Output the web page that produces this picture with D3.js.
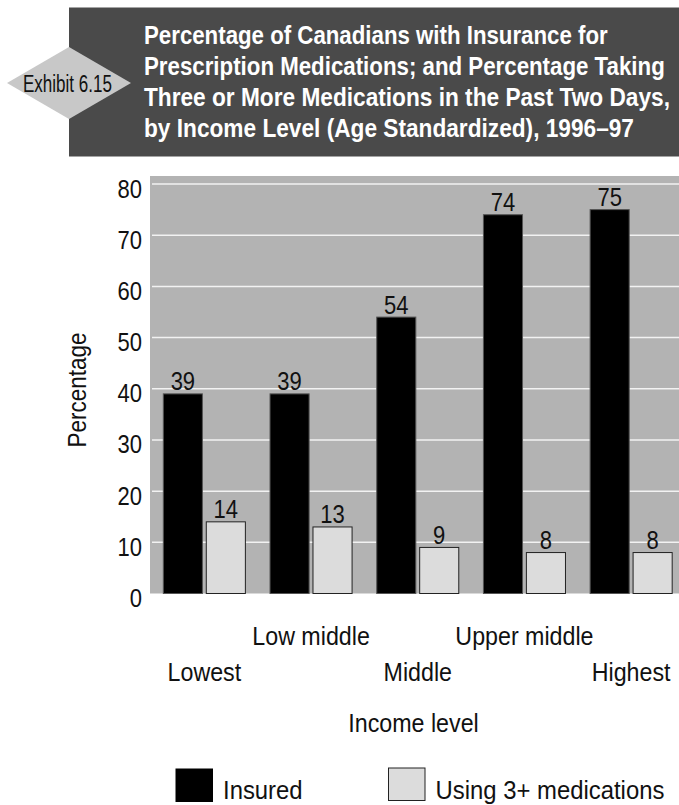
<!DOCTYPE html>
<html>
<head>
<meta charset="utf-8">
<script src="https://cdn.jsdelivr.net/npm/d3@7"></script>
<style>
  html, body { margin: 0; padding: 0; background: #ffffff; }
  svg { display: block; }
</style>
</head>
<body>
<svg id="chart" width="679" height="805"></svg>
<script>
// Income groups and the two measured series (percent)
const categories = ["Lowest", "Low middle", "Middle", "Upper middle", "Highest"];
const insured = [39, 39, 54, 74, 75];
const usingMeds = [14, 13, 9, 8, 8];
const seriesNames = ["Insured", "Using 3+ medications"];
const yTicks = [0, 10, 20, 30, 40, 50, 60, 70, 80];

const exhibitLabel = "Exhibit 6.15";
const titleLines = [
  "Percentage of Canadians with Insurance for",
  "Prescription Medications; and Percentage Taking",
  "Three or More Medications in the Past Two Days,",
  "by Income Level (Age Standardized), 1996\u201397"
];
const yTitle = "Percentage";
const xTitle = "Income level";

// Layout
const W = 679, H = 805;
const plot = { left: 150, right: 679, top: 176, bottom: 593.5 };
const titleWidths = [464, 521, 526, 490];
const regular = "'Liberation Sans', Arial, Helvetica, sans-serif";
const fs = 25;          // body text size
const kText = 0.93;     // horizontal squeeze for words
const kNum = 0.88;      // horizontal squeeze for numbers

const colors = { insured: "#000000", meds: "#dcdcdc", plotBg: "#b3b3b3", banner: "#4a4a4a", diamond: "#c8c8c8" };

const svg = d3.select("#chart");

// Squeeze a text horizontally so it spans the given width
function fitWidth(sel, x, y, width) {
  sel.attr("x", 0).attr("y", 0);
  const natural = sel.node().getComputedTextLength();
  sel.attr("transform", `translate(${x},${y}) scale(${width / natural},1)`);
}
// Place a text with a fixed horizontal squeeze
function placeNarrow(sel, x, y, k, extra = "") {
  sel.attr("x", 0).attr("y", 0)
    .attr("transform", `translate(${x},${y}) ${extra} scale(${k},1)`);
}

// Banner
svg.append("rect")
  .attr("x", 69).attr("y", 7.5)
  .attr("width", W - 69).attr("height", 149)
  .attr("fill", colors.banner);

const dcx = 69, dcy = 83, dhw = 62, dhh = 36;
svg.append("path")
  .attr("d", `M${dcx - dhw},${dcy} L${dcx},${dcy - dhh} L${dcx + dhw},${dcy} L${dcx},${dcy + dhh} Z`)
  .attr("fill", colors.diamond);

const ex = svg.append("text")
  .attr("font-family", regular)
  .attr("font-size", 24)
  .attr("fill", "#111")
  .text(exhibitLabel);
fitWidth(ex, 23, 91.5, 89);

svg.append("g")
  .selectAll("text")
  .data(titleLines)
  .join("text")
  .attr("font-family", regular)
  .attr("font-weight", "bold")
  .attr("font-size", 25)
  .attr("fill", "#ffffff")
  .text(d => d)
  .each(function (d, i) {
    fitWidth(d3.select(this), 144, 43.5 + i * 31.3, titleWidths[i]);
  });

// Scales
const y = d3.scaleLinear().domain([0, 80]).range([plot.bottom, 184]);
const x0 = d3.scaleBand()
  .domain(categories)
  .range([151, 684.5])
  .paddingInner(0.231)
  .paddingOuter(0.1155);
const x1 = d3.scaleBand()
  .domain(seriesNames)
  .range([0, x0.bandwidth()])
  .paddingInner(0.09);

// Plot background
svg.append("rect")
  .attr("x", plot.left).attr("y", plot.top)
  .attr("width", plot.right - plot.left).attr("height", plot.bottom - plot.top)
  .attr("fill", colors.plotBg);

// Gridlines
svg.append("g")
  .selectAll("line")
  .data(yTicks.filter(t => t > 0))
  .join("line")
  .attr("x1", plot.left + 2).attr("x2", plot.right)
  .attr("y1", d => y(d)).attr("y2", d => y(d))
  .attr("stroke", "#f2f2f2")
  .attr("stroke-width", 1.5);

// Y axis tick labels
const yAxis = d3.axisLeft(y).tickValues(yTicks).tickSize(0);
const yg = svg.append("g")
  .attr("transform", `translate(${plot.left},0)`)
  .call(yAxis);
yg.select(".domain").remove();
yg.selectAll("text")
  .attr("font-family", regular)
  .attr("font-size", fs)
  .attr("fill", "#111")
  .attr("dy", null)
  .attr("text-anchor", "end")
  .each(function () { placeNarrow(d3.select(this), -8, 13, kNum); });

// Y title
const yt = svg.append("text")
  .attr("text-anchor", "middle")
  .attr("font-family", regular)
  .attr("font-size", fs)
  .attr("fill", "#111")
  .text(yTitle);
placeNarrow(yt, 85.5, 390, 0.9, "rotate(-90)");

// Bars
const rows = categories.map((c, i) => ({
  cat: c,
  values: [
    { key: seriesNames[0], v: insured[i] },
    { key: seriesNames[1], v: usingMeds[i] }
  ]
}));

const groups = svg.append("g")
  .selectAll("g")
  .data(rows)
  .join("g")
  .attr("transform", d => `translate(${x0(d.cat)},0)`);

groups.selectAll("rect")
  .data(d => d.values)
  .join("rect")
  .attr("x", d => x1(d.key))
  .attr("y", d => y(d.v))
  .attr("width", x1.bandwidth())
  .attr("height", d => y(0) - y(d.v))
  .attr("fill", d => d.key === seriesNames[0] ? colors.insured : colors.meds)
  .attr("stroke", d => d.key === seriesNames[0] ? "#555" : "#222")
  .attr("stroke-width", 1);

groups.selectAll("text")
  .data(d => d.values)
  .join("text")
  .attr("text-anchor", "middle")
  .attr("font-family", regular)
  .attr("font-size", fs)
  .attr("fill", "#111")
  .text(d => d.v)
  .each(function (d) {
    placeNarrow(d3.select(this), x1(d.key) + x1.bandwidth() / 2, y(d.v) - 3.5, kNum);
  });

// Category labels, staggered on two rows
svg.append("g")
  .selectAll("text")
  .data(categories)
  .join("text")
  .attr("text-anchor", "middle")
  .attr("font-family", regular)
  .attr("font-size", fs)
  .attr("fill", "#111")
  .text(d => d)
  .each(function (d, i) {
    placeNarrow(d3.select(this), x0(d) + x0.bandwidth() / 2, i % 2 === 1 ? 645 : 681, kText);
  });

// X title
const xt = svg.append("text")
  .attr("text-anchor", "middle")
  .attr("font-family", regular)
  .attr("font-size", fs)
  .attr("fill", "#111")
  .text(xTitle);
placeNarrow(xt, 413.5, 731.5, kText);

// Legend
const legend = [
  { name: seriesNames[0], fill: colors.insured, stroke: "#000", x: 176, sy: 769 },
  { name: seriesNames[1], fill: colors.meds, stroke: "#222", x: 388.5, sy: 768 }
];
const lg = svg.append("g").selectAll("g").data(legend).join("g");
lg.append("rect")
  .attr("x", d => d.x).attr("y", d => d.sy)
  .attr("width", 36.5).attr("height", 32.5)
  .attr("fill", d => d.fill)
  .attr("stroke", d => d.stroke)
  .attr("stroke-width", 1);
lg.append("text")
  .attr("font-family", regular)
  .attr("font-size", fs)
  .attr("fill", "#111")
  .text(d => d.name)
  .each(function (d) { placeNarrow(d3.select(this), d.x + 47, 799, 0.955); });
</script>
</body>
</html>
